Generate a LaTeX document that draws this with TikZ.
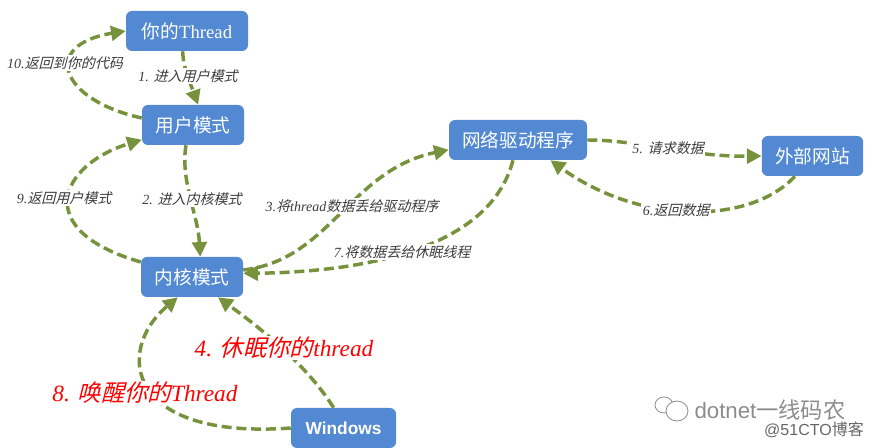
\documentclass[tikz,border=0pt]{standalone}
\usepackage{fontspec}
\setmainfont{Liberation Serif}
\setsansfont{Liberation Sans}
\newfontfamily\cjk{Noto Sans CJK SC}
\newfontface\cjkit[FakeSlant=0.25]{Noto Sans CJK SC}
\usetikzlibrary{arrows.meta}
\definecolor{boxblue}{HTML}{5289D2}
\definecolor{linkolive}{HTML}{76923C}
\definecolor{notegrey}{HTML}{3C3C3C}
\definecolor{markgrey}{HTML}{8C8C8C}
\begin{document}
\begin{tikzpicture}
		[x=.75pt,y=-.75pt,
		box/.style={rounded corners=4.5pt,fill=boxblue,text=white,minimum height=30pt,inner sep=0pt,font=\fontsize{14}{16}\selectfont},
		link/.style={draw=linkolive,line width=2.6pt,dash pattern=on 7.5pt off 3.6pt,-{Triangle[length=11pt,width=11pt,fill=linkolive]}},
		note/.style={fill=white,inner sep=1pt,text=notegrey,font=\fontsize{10.5}{12}\selectfont\itshape},
		rednote/.style={fill=white,inner sep=1pt,text=red,font=\fontsize{17.5}{20}\selectfont\itshape},
		wmark/.style={inner sep=0pt,text=markgrey}] % boxes, links, and the two kinds of label
		\useasboundingbox (0,0) rectangle (874,448);
		
		\node[box,minimum width=91.5pt] (thr) at (187,31) {{\cjk 你的}Thread};
		\node[box,minimum width=76.5pt] (usr) at (193,125) {\cjk 用户模式};
		\node[box,minimum width=76.5pt] (krn) at (192,277) {\cjk 内核模式};
		\node[box,minimum width=103.5pt] (net) at (518,140) {\cjk 网络驱动程序};
		\node[box,minimum width=76pt] (ext) at (812.5,156) {\cjk 外部网站};
		\node[box,minimum width=78.75pt,font=\fontsize{13}{16}\selectfont\sffamily\bfseries] (win) at (343.5,428) {Windows};
		
		\draw [link] (thr.-102) .. controls (183,68) and (191,85) .. (usr.76);
		\draw [link] (usr.west) ++(0,-7) .. controls (60,100) and (40,45) .. (thr.west);
		\draw [link] (krn.west) ++(0,-15) .. controls (30,230) and (60,165) .. (usr.-164);
		\draw [link] (usr.-109) .. controls (180,180) and (198,215) .. (krn.68);
		\draw [link] (krn.east) ++(0,-7) .. controls (330,260) and (350,170) .. (net.-172);
		\draw [link] (net.-104) .. controls (490,250) and (360,272) .. (krn.4);
		\draw [link] (net.east) .. controls (640,140) and (690,157) .. (ext.west);
		\draw [link] (ext.-131) .. controls (750,225) and (640,225) .. (net.-32);
		\draw [link] (win.116) .. controls (310,370) and (270,335) .. (krn.-38);
		\draw [link] (win.west) .. controls (125,440) and (115,350) .. (krn.-125);
		
		\node[note] (n1) at (188,76) {1. {\cjkit 进入用户模式}};
		\node[note] (n2) at (192,199) {2. {\cjkit 进入内核模式}};
		\node[note] (n3) at (352,206) {3.{\cjkit 将}thread{\cjkit 数据丢给驱动程序}};
		\node[note] (n4) at (402,252) {7.{\cjkit 将数据丢给休眠线程}};
		\node[note] (n5) at (668,148) {5. {\cjkit 请求数据}};
		\node[note] (n6) at (676,210) {6.{\cjkit 返回数据}};
		\node[note] (n7) at (64,198) {9.{\cjkit 返回用户模式}};
		\node[note] (n8) at (65,63) {10.{\cjkit 返回到你的代码}};
		\node[rednote] (n9) at (284,348) {4. {\cjkit 休眠你的}thread};
		\node[rednote] (n10) at (145,393) {8. {\cjkit 唤醒你的}Thread};
		
		\draw[markgrey,line width=.6pt,fill=white] (664,405) ellipse (9 and 8);
		\draw[markgrey,line width=.6pt,fill=white] (677,411) ellipse (11 and 10);
		\node[wmark,font=\fontsize{16.7}{20}\selectfont\sffamily] (m1) at (770,410) {dotnet{\cjk 一线码农}};
		\node[wmark,text=black!60,font=\fontsize{12}{14}\selectfont\sffamily] (m2) at (814,430) {@51CTO{\cjk 博客}};
		
	\end{tikzpicture}
\end{document}
